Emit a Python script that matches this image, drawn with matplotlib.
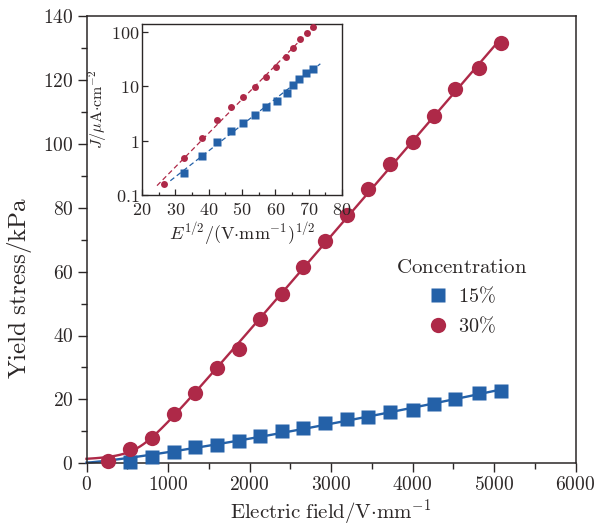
import numpy as np
import matplotlib
matplotlib.use("Agg")
import matplotlib.pyplot as plt
from matplotlib.ticker import FuncFormatter, MultipleLocator, FixedLocator, NullLocator

plt.rcParams['mathtext.fontset'] = 'cm'
plt.rcParams['font.family'] = ['serif']

# ---- main data ----
E_30 = [267, 530, 800, 1070, 1330, 1600, 1870, 2130, 2400, 2660, 2930, 3200,
        3460, 3730, 4000, 4260, 4520, 4810, 5080]
tau_30 = [0.7, 4.4, 8.0, 15.4, 21.9, 29.7, 35.9, 45.1, 52.9, 61.3, 69.7, 77.7,
          85.8, 93.6, 100.7, 108.8, 117.1, 123.8, 131.6]
E_15 = [530, 800, 1070, 1330, 1600, 1870, 2130, 2400, 2660, 2930, 3200, 3460,
        3730, 4000, 4260, 4520, 4810, 5080]
tau_15 = [0.3, 1.9, 3.6, 5.0, 5.6, 7.1, 8.6, 10.2, 10.9, 12.5, 13.8, 14.6,
          16.1, 16.7, 18.5, 20.2, 21.9, 22.7]

# ---- inset data ----
sE_30 = [26.5, 32.7, 38.1, 42.6, 46.6, 50.3, 53.8, 57.2, 60.2, 63.1, 65.3, 67.5, 69.6, 71.4]
J_30 = [0.157, 0.489, 1.10, 2.43, 4.11, 6.47, 9.9, 14.7, 22.5, 34.0, 50.6, 73.2, 94.5, 123.7]
sE_15 = [32.7, 38.1, 42.4, 46.6, 50.3, 53.8, 57.2, 60.4, 63.4, 65.2, 67.2, 69.3, 71.4]
J_15 = [0.258, 0.526, 0.955, 1.48, 2.11, 3.01, 4.1, 5.47, 7.45, 10.5, 13.4, 17.5, 21.0]

xticks_main = [0, 1000, 2000, 3000, 4000, 5000, 6000]
yticks_main = [0, 20, 40, 60, 80, 100, 120, 140]
xticks_inset = [20, 30, 40, 50, 60, 70, 80]
yticks_inset = [0.1, 1, 10, 100]
ytick_labels_inset = ['0.1', '1', '10', '100']

RED = '#AE2948'
BLUE = '#2461A8'
INK = '#2b2727'

W, H = 608, 526
fig = plt.figure(figsize=(W / 100, H / 100), dpi=100)
ax = fig.add_axes([86.5 / W, 1 - 463.3 / H, (575.5 - 86.5) / W, (463.3 - 16) / H])

def mt(v, pos=None):
    return r'$%g$' % v

def hyper_fit(x, y, c):
    # smooth onset fit: y = c + k * ((x - x0) + sqrt((x - x0)^2 + w^2)) / 2
    x = np.asarray(x, float); y = np.asarray(y, float) - c
    best = None
    for x0 in np.linspace(0, 1500, 151):
        for w in np.linspace(50, 2000, 79):
            b = ((x - x0) + np.sqrt((x - x0) ** 2 + w ** 2)) / 2
            k = np.sum(b * y) / np.sum(b * b)
            r = np.sum((k * b - y) ** 2)
            if best is None or r < best[0]:
                best = (r, k, x0, w)
    _, k, x0, w = best
    return lambda t: c + k * ((t - x0) + np.sqrt((t - x0) ** 2 + w ** 2)) / 2

def power_fit(x, y, c):
    x = np.asarray(x, float); y = np.asarray(y, float) - c
    best = None
    for n in np.linspace(0.8, 2.5, 341):
        xn = x ** n
        a = np.sum(xn * y) / np.sum(xn * xn)
        r = np.sum((a * xn - y) ** 2)
        if best is None or r < best[0]:
            best = (r, a, n)
    return lambda t: c + best[1] * t ** best[2]

f30 = hyper_fit(E_30, tau_30, 0.4)
f15 = power_fit(E_15, tau_15, 0.2)
xx30 = np.linspace(0, max(E_30), 400)
xx15 = np.linspace(0, max(E_15), 400)
ax.plot(xx30, f30(xx30), color=RED, lw=1.7, zorder=2, clip_on=False)
ax.plot(xx15, f15(xx15), color=BLUE, lw=1.7, zorder=2, clip_on=False)

ax.plot(E_15, tau_15, 's', color=BLUE, ms=10.5, mec='none', zorder=3, clip_on=False, label=r'$15\%$')
ax.plot(E_30, tau_30, 'o', color=RED, ms=11, mec='none', zorder=4, clip_on=False, label=r'$30\%$')

ax.set_xlim(0, 6000)
ax.set_ylim(0, 140)
ax.xaxis.set_major_locator(FixedLocator(xticks_main))
ax.yaxis.set_major_locator(FixedLocator(yticks_main))
ax.xaxis.set_minor_locator(MultipleLocator(500))
ax.yaxis.set_minor_locator(MultipleLocator(10))
ax.xaxis.set_major_formatter(FuncFormatter(mt))
ax.yaxis.set_major_formatter(FuncFormatter(mt))
ax.tick_params(which='both', direction='out', color=INK, width=1.0,
               top=False, right=False, labelsize=14, labelcolor=INK)
ax.tick_params(which='major', length=6.5, pad=3)
ax.tick_params(which='minor', length=4.5)
for s in ax.spines.values():
    s.set_color(INK)
    s.set_linewidth(1.1)

ax.set_xlabel(r'$\mathrm{Electric\ field/V{\cdot}mm^{-1}}$', fontsize=15, color=INK, labelpad=2)
ax.set_ylabel(r'$\mathrm{Yield\ stress/kPa}$', fontsize=18, color=INK)
ax.yaxis.set_label_coords((34 - 86.5) / 489, 1 - (288 - 16) / 447.3)

leg = ax.legend(loc='center', bbox_to_anchor=((462 - 86.5) / 489, 1 - (297 - 16) / 447.3),
                frameon=False, title=r'$\mathrm{Concentration}$', fontsize=14.5,
                title_fontsize=15, handlelength=1.0, handletextpad=0.5,
                labelspacing=0.45, borderpad=0.2)
leg.get_title().set_color(INK)
for t in leg.get_texts():
    t.set_color(INK)

# ---- inset ----
ia = fig.add_axes([142 / W, 1 - 195 / H, (342 - 142) / W, (195 - 24) / H])
ia.set_yscale('log')
c30 = np.polyfit(sE_30, np.log10(J_30), 1)
c15 = np.polyfit(sE_15, np.log10(J_15), 1)
u30 = np.linspace(24.5, 71.5, 100)
u15 = np.linspace(28.5, 73.5, 100)
ia.plot(u30, 10 ** np.polyval(c30, u30), '--', color=RED, lw=0.9, dashes=(4, 2.5), zorder=2)
ia.plot(u15, 10 ** np.polyval(c15, u15), '--', color=BLUE, lw=0.9, dashes=(4, 2.5), zorder=2)
ia.plot(sE_30, J_30, 'o', color=RED, ms=5.0, mec='none', zorder=3)
ia.plot(sE_15, J_15, 's', color=BLUE, ms=5.5, mec='none', zorder=3)
ia.set_xlim(20, 80)
ia.set_ylim(0.1, 140)
ia.xaxis.set_major_locator(FixedLocator(xticks_inset))
ia.xaxis.set_minor_locator(MultipleLocator(5))
ia.xaxis.set_major_formatter(FuncFormatter(mt))
ia.yaxis.set_major_locator(FixedLocator(yticks_inset))
ia.yaxis.set_minor_locator(NullLocator())
ia.set_yticklabels([r'$%s$' % s for s in ytick_labels_inset])
ia.tick_params(which='both', direction='in', color=INK, width=0.9,
               top=False, right=False, labelsize=13, labelcolor=INK)
ia.tick_params(axis='x', which='major', length=4, pad=4.5)
ia.tick_params(axis='y', which='major', length=4, pad=2)
ia.tick_params(which='minor', length=2.5)
for s in ia.spines.values():
    s.set_color(INK)
    s.set_linewidth(1.0)
ia.set_xlabel(r'$E^{1/2}/(\mathrm{V{\cdot}mm^{-1}})^{1/2}$', fontsize=13, color=INK, labelpad=1)
ia.set_ylabel(r'$J/\mathrm{\mu A{\cdot}cm^{-2}}$', fontsize=11.5, color=INK, labelpad=1)

fig.savefig('out.png', dpi=100)
